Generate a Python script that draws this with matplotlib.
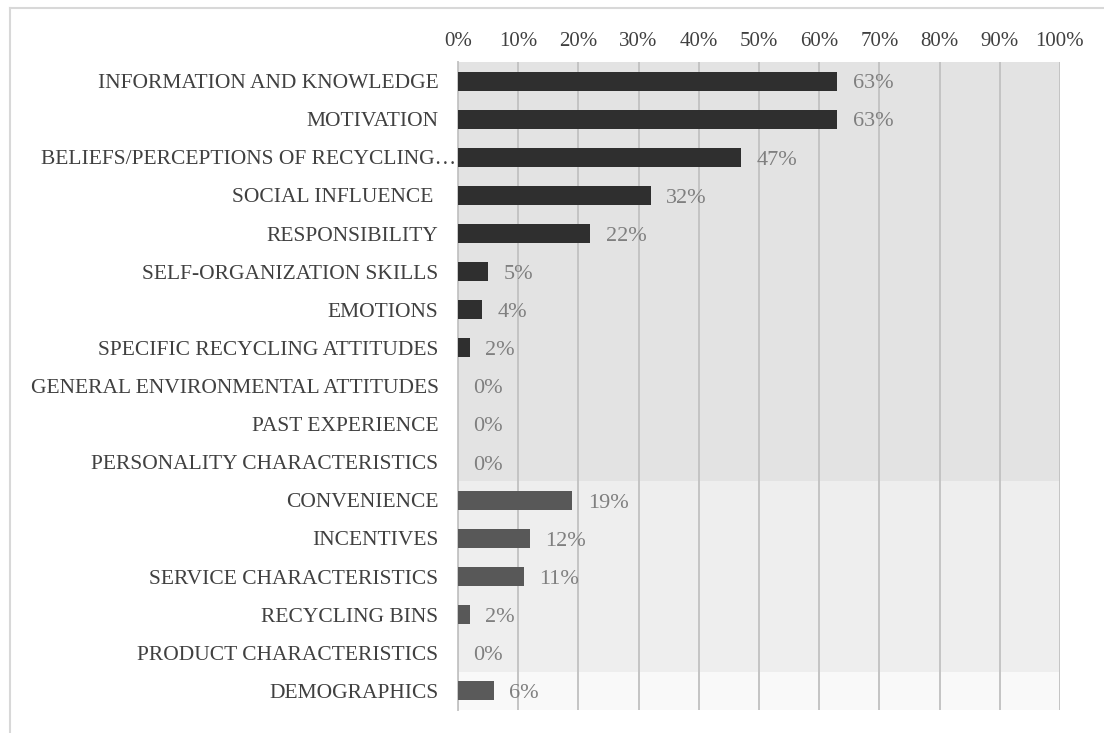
import matplotlib.pyplot as plt
from matplotlib.lines import Line2D
from matplotlib.transforms import ScaledTranslation

# factor categories, top to bottom
categories = [
    "INFORMATION AND KNOWLEDGE",
    "MOTIVATION",
    "BELIEFS/PERCEPTIONS OF RECYCLING…",
    "SOCIAL INFLUENCE ",
    "RESPONSIBILITY",
    "SELF-ORGANIZATION SKILLS",
    "EMOTIONS",
    "SPECIFIC RECYCLING ATTITUDES",
    "GENERAL ENVIRONMENTAL ATTITUDES",
    "PAST EXPERIENCE",
    "PERSONALITY CHARACTERISTICS",
    "CONVENIENCE",
    "INCENTIVES",
    "SERVICE CHARACTERISTICS",
    "RECYCLING BINS",
    "PRODUCT CHARACTERISTICS",
    "DEMOGRAPHICS",
]
shares = [63, 63, 47, 32, 22, 5, 4, 2, 0, 0, 0, 19, 12, 11, 2, 0, 6]
# group of each factor: 0 = individual, 1 = situational, 2 = demographic
groups = [0] * 11 + [1] * 5 + [2]
x_ticks = list(range(0, 101, 10))

bar_colors = {0: "#2f2f2f", 1: "#585858", 2: "#5a5a5a"}
band_colors = {0: "#e3e3e3", 1: "#eeeeee", 2: "#f9f9f9"}

plt.rcParams["font.family"] = ["Liberation Serif", "DejaVu Serif"]

fig = plt.figure(figsize=(11.04, 7.33), dpi=100)
ax = fig.add_axes([0.4149, 0.0314, 0.5452, 0.884])

# background bands for each group
ypos = list(range(len(categories)))
for g in sorted(set(groups)):
    idx = [i for i, gg in enumerate(groups) if gg == g]
    ax.axhspan(min(idx) - 0.5, max(idx) + 0.5, color=band_colors[g], lw=0, zorder=0)

ax.barh(ypos, shares, height=0.5,
        color=[bar_colors[g] for g in groups], zorder=3)

for y, v in zip(ypos, shares):
    ax.annotate(f"{v}%", xy=(v, y), xytext=(11, -2), textcoords="offset points",
                ha="left", va="center", fontsize=16, color="#7f7f7f", zorder=4)

ax.set_xlim(0, 100)
ax.set_ylim(len(categories) - 0.5, -0.5)
ax.set_xticks(x_ticks)
ax.set_xticklabels([f"{t}%" for t in x_ticks])
ax.xaxis.tick_top()
ax.tick_params(axis="x", length=0, pad=8, labelsize=15, labelcolor="#404040")
ax.set_yticks(ypos)
ax.set_yticklabels(categories)
ax.tick_params(axis="y", length=0, pad=14, labelsize=15.5, labelcolor="#404040")
ax.grid(axis="x", color="#c4c4c4", lw=1.4, zorder=1)
ax.set_axisbelow(False)
for side in ("top", "right", "bottom"):
    ax.spines[side].set_visible(False)
ax.spines["left"].set_color("#c8c8c8")
ax.spines["left"].set_linewidth(1.4)

# the truncated label runs right up to the bar
for lab in ax.get_yticklabels():
    if lab.get_text().endswith("…"):
        lab.set_transform(lab.get_transform() +
                          ScaledTranslation(12.5 / 72, 0, fig.dpi_scale_trans))

# outer frame (top and left edges)
fig.add_artist(Line2D([0.009, 1.0], [0.989, 0.989], color="#d8d8d8", lw=1.5))
fig.add_artist(Line2D([0.009, 0.009], [0.0, 0.989], color="#d8d8d8", lw=1.5))

fig.savefig("out.png", dpi=100)
